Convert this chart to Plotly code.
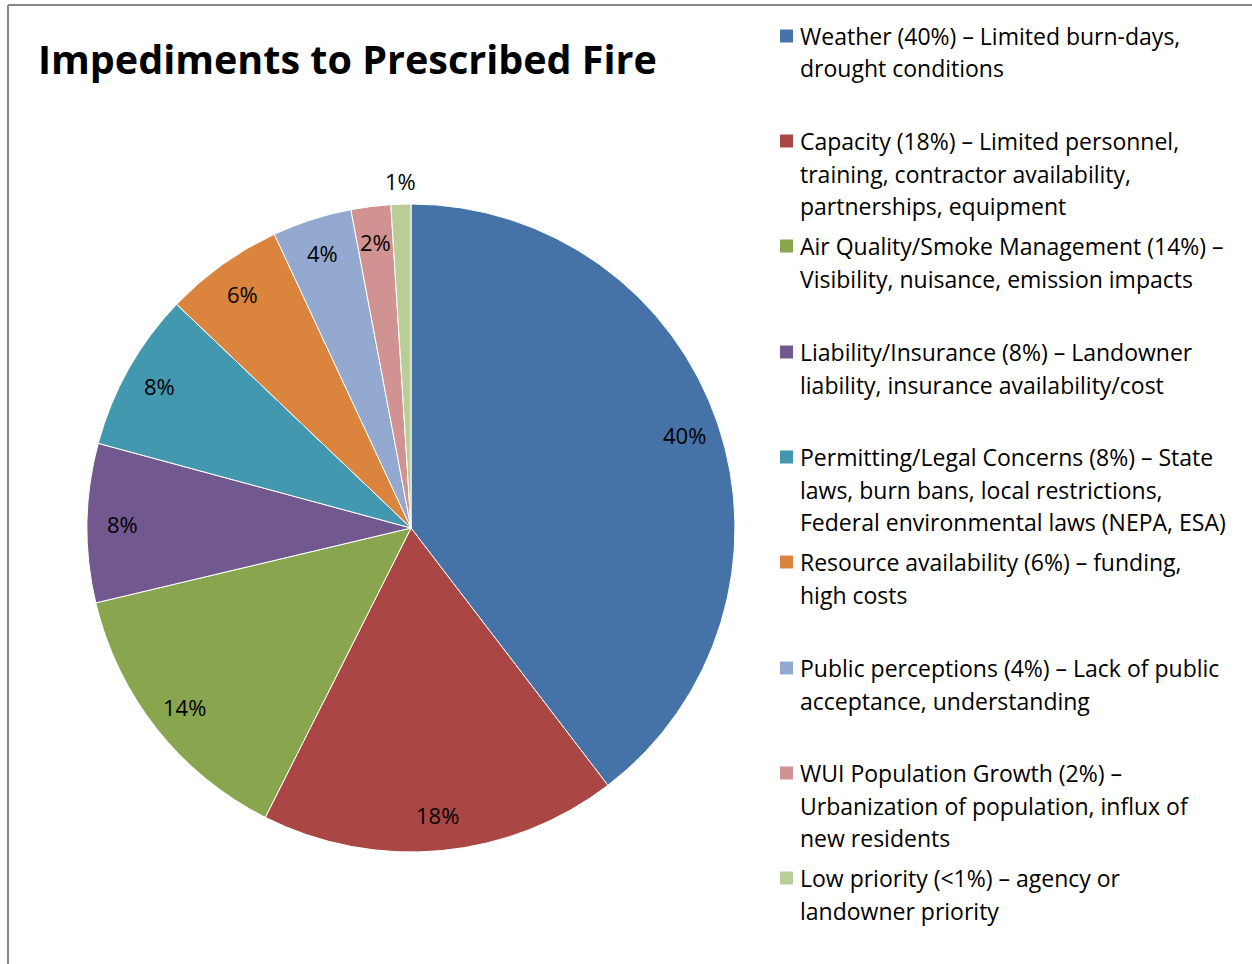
import math
import plotly.graph_objects as go

categories = ["Weather", "Capacity", "Air Quality/Smoke Management", "Liability/Insurance",
              "Permitting/Legal Concerns", "Resource availability", "Public perceptions",
              "WUI Population Growth", "Low priority"]
values = [40, 18, 14, 8, 8, 6, 4, 2, 1]
pct_labels = ["40%", "18%", "14%", "8%", "8%", "6%", "4%", "2%", "1%"]
legend_texts = [
    ["Weather (40%) – Limited burn-days,", "drought conditions"],
    ["Capacity (18%) – Limited personnel,", "training, contractor availability,", "partnerships, equipment"],
    ["Air Quality/Smoke Management (14%) –", "Visibility, nuisance, emission impacts"],
    ["Liability/Insurance (8%) – Landowner", "liability, insurance availability/cost"],
    ["Permitting/Legal Concerns (8%) – State", "laws, burn bans, local restrictions,", "Federal environmental laws (NEPA, ESA)"],
    ["Resource availability (6%) – funding,", "high costs"],
    ["Public perceptions (4%) – Lack of public", "acceptance, understanding"],
    ["WUI Population Growth (2%) –", "Urbanization of population, influx of", "new residents"],
    ["Low priority (<1%) – agency or", "landowner priority"],
]
colors = ["#4572A7", "#AA4643", "#89A54E", "#71588F", "#4198AF", "#DB843D",
          "#93A9CF", "#D19392", "#B9CD96"]

W, H = 1252, 964
CX, CY, R = 411, 528, 324  # pixels
FONT = "Open Sans"
FS = 23
FS_LAB = 22

fig = go.Figure(go.Pie(
    labels=categories, values=values, sort=False, direction="clockwise",
    rotation=0, textinfo="none", hoverinfo="label+percent",
    marker=dict(colors=colors, line=dict(color="white", width=1)),
    domain=dict(x=[(CX - R) / W, (CX + R) / W], y=[(H - CY - R) / H, (H - CY + R) / H]),
    showlegend=False,
))

annotations = []
shapes = []
# slice labels
total = sum(values)
cum = 0
for i, (v, lab) in enumerate(zip(values, pct_labels)):
    mid = (cum + v / 2) / total * 2 * math.pi
    cum += v
    rf = 1.07 if i == len(values) - 1 else 0.89
    px = CX + rf * R * math.sin(mid)
    py = CY - rf * R * math.cos(mid)
    annotations.append(dict(x=px / W, y=(H - py) / H, xref="paper", yref="paper",
                            text=lab, showarrow=False, xanchor="center", yanchor="middle",
                            font=dict(family=FONT, size=FS_LAB, color="#000000")))

# legend
legend_y = [36, 141, 246, 352, 457, 562, 668, 773, 878]
line_h = 32.5
for i, (lines, y0) in enumerate(zip(legend_texts, legend_y)):
    shapes.append(dict(type="rect", xref="paper", yref="paper",
                       x0=780 / W, x1=793 / W, y0=(H - y0 - 6.5) / H, y1=(H - y0 + 6.5) / H,
                       fillcolor=colors[i], line=dict(width=0)))
    for j, t in enumerate(lines):
        yy = y0 + j * line_h
        annotations.append(dict(x=798 / W, y=(H - yy) / H, xref="paper", yref="paper",
                                text=t, showarrow=False, xanchor="left", yanchor="middle",
                                font=dict(family=FONT, size=FS, color="#000000")))

# title
annotations.append(dict(x=36 / W, y=(H - 59) / H, xref="paper", yref="paper",
                        text="<b>Impediments to Prescribed Fire</b>", showarrow=False,
                        xanchor="left", yanchor="middle",
                        font=dict(family=FONT, size=39.5, color="#000000")))

# frame
shapes.append(dict(type="line", xref="paper", yref="paper", x0=8 / W, x1=8 / W,
                   y0=0, y1=(H - 5) / H, line=dict(color="#878787", width=2)))
shapes.append(dict(type="line", xref="paper", yref="paper", x0=8 / W, x1=1,
                   y0=(H - 5) / H, y1=(H - 5) / H, line=dict(color="#878787", width=2)))

fig.update_layout(width=W, height=H, margin=dict(l=0, r=0, t=0, b=0),
                  paper_bgcolor="white", plot_bgcolor="white",
                  annotations=annotations, shapes=shapes)
fig.write_html("out.html", config={"displayModeBar": False},
               post_script="document.body.style.margin='0';document.body.style.overflow='hidden';")
